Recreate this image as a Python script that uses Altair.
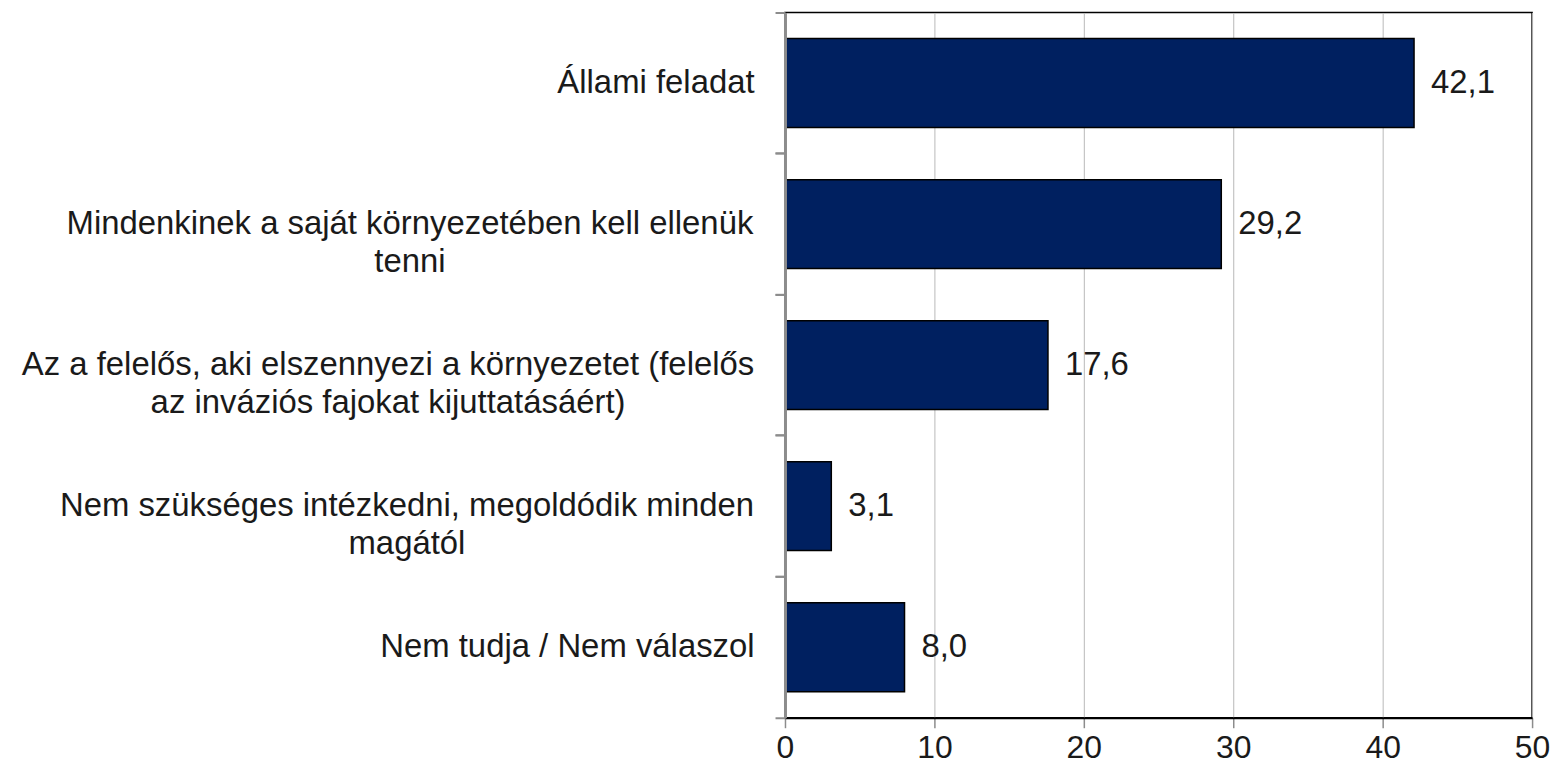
import altair as alt
import pandas as pd

categories = [
    "Állami feladat",
    "Mindenkinek a saját környezetében kell ellenük tenni",
    "Az a felelős, aki elszennyezi a környezetet (felelős az inváziós fajokat kijuttatásáért)",
    "Nem szükséges intézkedni, megoldódik minden magától",
    "Nem tudja / Nem válaszol",
]
values = [42.1, 29.2, 17.6, 3.1, 8.0]
label_lines = [
    ["Állami feladat"],
    ["Mindenkinek a saját környezetében kell ellenük", "tenni"],
    ["Az a felelős, aki elszennyezi a környezetet (felelős", "az inváziós fajokat kijuttatásáért)"],
    ["Nem szükséges intézkedni, megoldódik minden", "magától"],
    ["Nem tudja / Nem válaszol"],
]
x_ticks = [0, 10, 20, 30, 40, 50]

df = pd.DataFrame({"cat": categories, "value": values})

FONT = "Liberation Sans"
FS = 33
TXT = "#1a1a1a"
GREY = "#8c8c8c"


def label_expr(indices):
    parts = []
    for i in indices:
        lines = label_lines[i]
        arr = "[" + ", ".join("'" + l + "'" for l in lines) + "]"
        parts.append(f"datum.label == '{categories[i]}' ? {arr} : ")
    return "".join(parts) + "''"


common_lab = dict(
    title=None, orient="left", labelFont=FONT, labelFontSize=FS, labelColor=TXT,
    labelLimit=900, labelLineHeight=38, labelOverlap=False, grid=False,
)

ax_single = alt.Axis(
    labelExpr=label_expr([0, 4]), labelAlign="right", labelPadding=31,
    ticks=False, tickSize=0, domain=True, domainColor=GREY, domainWidth=3,
    zindex=1, **common_lab,
)


def ax_multi(i, pad):
    return alt.Axis(
        labelExpr=label_expr([i]), labelAlign="center", labelPadding=pad,
        ticks=False, tickSize=0, domain=False, **common_lab,
    )


def ax_ticks(bp):
    return alt.Axis(
        title=None, orient="left", labels=False, domain=False, grid=False,
        ticks=True, tickSize=10, tickWidth=2, tickColor=GREY, bandPosition=bp,
        zindex=1,
    )


y_scale = alt.Scale(domain=categories, paddingInner=0, paddingOuter=0)

x_enc = alt.X(
    "value:Q",
    scale=alt.Scale(domain=[0, 50], nice=False),
    axis=alt.Axis(
        values=x_ticks, title=None, grid=True, gridColor="#b9b9b9", gridWidth=1,
        domainColor="black", domainWidth=2, tickColor=GREY, tickSize=10,
        tickWidth=1.5, labelFont=FONT, labelFontSize=32, labelColor=TXT,
        labelPadding=5, labelFlush=False, labelOverlap=False,
    ),
)


def y_enc(axis):
    return alt.Y("cat:N", scale=y_scale, sort=categories, axis=axis)


base = alt.Chart(df)

bars = base.mark_bar(
    color="#002060", stroke="black", strokeWidth=1.5,
    height=alt.RelativeBandSize(0.63),
).encode(x=x_enc, y=y_enc(ax_single))

texts = base.transform_calculate(
    lab="replace(format(datum.value, '.1f'), '.', ',')"
).mark_text(
    align="left", baseline="middle", dx=17, font=FONT, fontSize=FS, color=TXT,
).encode(x=x_enc, y=y_enc(ax_multi(1, 377)), text="lab:N")


def ghost(axis):
    return base.mark_point(opacity=0).encode(x=x_enc, y=y_enc(axis))


chart = alt.layer(
    bars,
    texts,
    ghost(ax_multi(2, 399)),
    ghost(ax_multi(3, 380)),
    ghost(ax_ticks(0)),
    ghost(ax_ticks(1)),
).resolve_axis(y="independent").resolve_scale(y="shared").properties(
    width=750, height=708,
    autosize=alt.AutoSizeParams(type="none"),
    padding={"left": 780, "top": 3, "right": 22, "bottom": 62},
).configure_view(stroke="black", strokeWidth=1.5)

chart.save("out.html", embed_options={"renderer": "svg", "actions": False})
